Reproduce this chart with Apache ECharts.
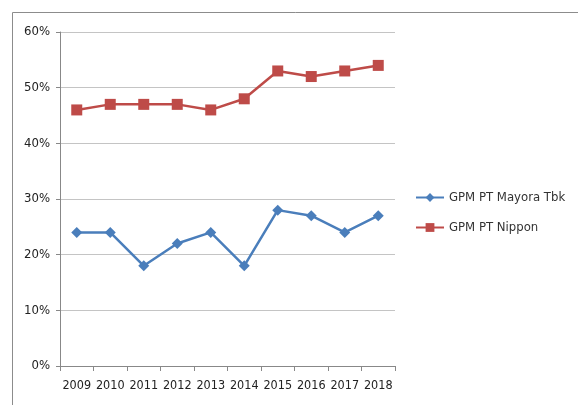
<!DOCTYPE html>
<html>
<head>
<meta charset="utf-8">
<script src="https://cdn.jsdelivr.net/npm/echarts@6/dist/echarts.min.js"></script>
<style>
  html, body { margin: 0; padding: 0; background: #fff; }
  #chart { width: 578px; height: 405px; }
</style>
</head>
<body>
<div id="chart"></div>
<script>
const years = ['2009', '2010', '2011', '2012', '2013', '2014', '2015', '2016', '2017', '2018']
const mayora = [24, 24, 18, 22, 24, 18, 28, 27, 24, 27]
const nippon = [46, 47, 47, 47, 46, 48, 53, 52, 53, 54]
const yTicks = [0, 10, 20, 30, 40, 50, 60]

const font = "'Liberation Sans Narrow', 'DejaVu Sans Condensed', 'Roboto', sans-serif"

const chart = echarts.init(document.getElementById('chart'))
chart.setOption({
  animation: false,
  textStyle: { fontFamily: font },
  graphic: [{
    type: 'rect',
    shape: { x: 12.5, y: 12.5, width: 600, height: 420 },
    style: { fill: 'none', stroke: '#8c8c8c', lineWidth: 1 }
  }],
  legend: {
    orient: 'vertical',
    left: 410,
    top: 186,
    itemGap: 17,
    itemWidth: 28,
    itemHeight: 11,
    textStyle: { fontSize: 13, color: '#333', fontFamily: font },
    data: ['GPM PT Mayora Tbk', 'GPM PT Nippon']
  },
  grid: { left: 60, top: 32, right: 183, bottom: 39 },
  xAxis: {
    type: 'category',
    data: years,
    axisLine: { lineStyle: { color: '#888' } },
    axisTick: { show: true, length: 5, interval: 0, lineStyle: { color: '#888' } },
    axisLabel: { color: '#222', fontSize: 12.5, margin: 13, interval: 0, fontFamily: font }
  },
  yAxis: {
    type: 'value',
    min: yTicks[0],
    max: yTicks[yTicks.length - 1],
    interval: 10,
    axisLine: { show: true, lineStyle: { color: '#888' } },
    axisTick: { show: true, length: 4, lineStyle: { color: '#888' } },
    splitLine: { lineStyle: { color: '#c4c4c4' } },
    axisLabel: { color: '#222', fontSize: 13, margin: 10, fontFamily: font, formatter: '{value}%' }
  },
  series: [
    {
      name: 'GPM PT Mayora Tbk',
      type: 'line',
      data: mayora,
      symbol: 'diamond',
      symbolSize: 11,
      color: '#4a7ebb',
      lineStyle: { width: 2.5, color: '#4a7ebb' }
    },
    {
      name: 'GPM PT Nippon',
      type: 'line',
      data: nippon,
      symbol: 'rect',
      symbolSize: 11,
      color: '#be4b48',
      lineStyle: { width: 2.5, color: '#be4b48' }
    }
  ]
})
</script>
</body>
</html>
